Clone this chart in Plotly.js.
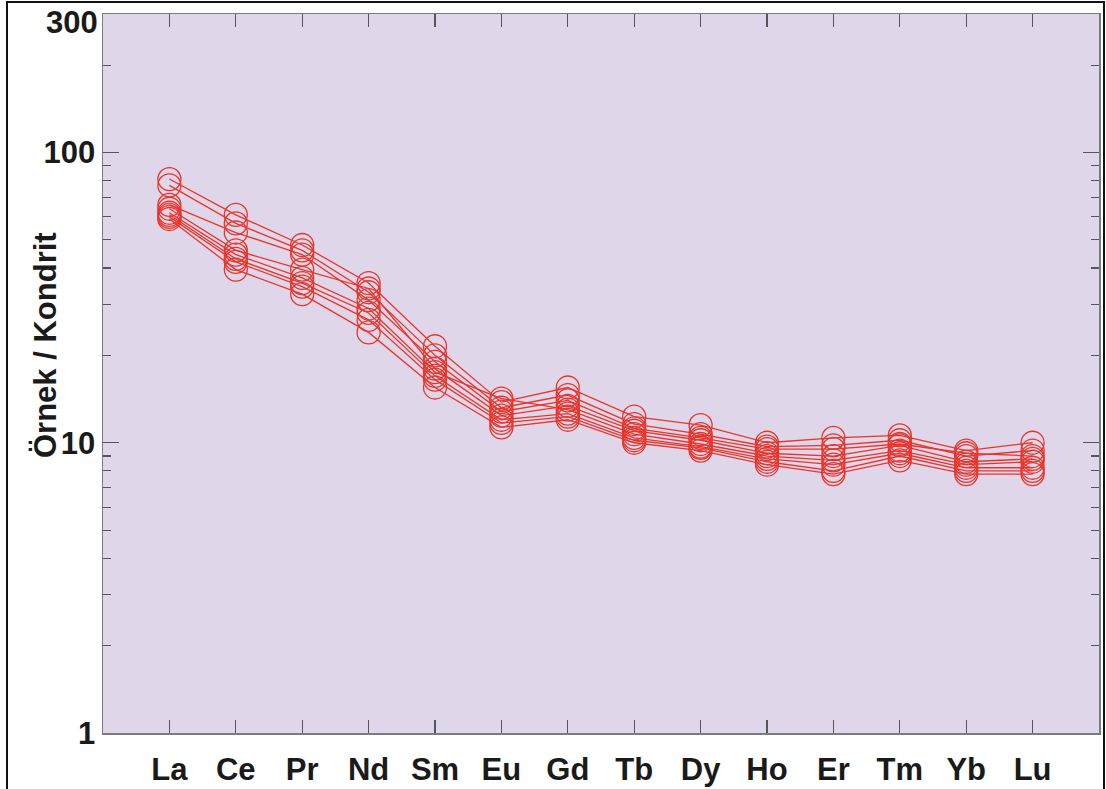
<!DOCTYPE html>
<html>
<head>
<meta charset="utf-8">
<script src="https://cdn.plot.ly/plotly-3.0.1.min.js"></script>
<style>html,body{margin:0;padding:0;background:#fff;}#chart{width:1106px;height:789px;}</style>
</head>
<body>
<div id="chart"></div>
<script>
const elements = ["La","Ce","Pr","Nd","Sm","Eu","Gd","Tb","Dy","Ho","Er","Tm","Yb","Lu"];
const sample1 = [81, 61, 48, 35.5, 21.5, 13.8, 15.5, 12.3, 11.5, 10.0, 10.4, 10.6, 9.4, 10.0];
const sample2 = [77, 57, 46, 33, 20, 13.2, 14.6, 11.6, 10.7, 9.7, 9.8, 10.2, 9.0, 9.4];
const sample3 = [66, 53, 44.5, 31, 19, 12.8, 14.0, 11.2, 10.4, 9.5, 9.5, 9.9, 9.2, 9.0];
const sample4 = [64, 46, 39.5, 34, 18, 12.4, 13.4, 11.0, 10.2, 9.2, 9.0, 9.8, 8.6, 8.8];
const sample5 = [62, 44.5, 37, 29, 17.5, 14.2, 13.0, 10.7, 9.9, 9.0, 8.7, 9.4, 8.4, 8.6];
const sample6 = [61, 43, 35.5, 28, 17, 12.0, 12.6, 10.4, 9.7, 8.8, 8.4, 9.2, 8.2, 8.2];
const sample7 = [60, 42, 34.5, 26.5, 16.5, 11.7, 12.3, 10.2, 9.6, 8.6, 8.0, 9.0, 8.0, 8.0];
const sample8 = [59, 39.5, 32.5, 24, 15.5, 11.3, 12.0, 10.0, 9.4, 8.4, 7.8, 8.7, 7.8, 7.8];
const samples = [sample1, sample2, sample3, sample4, sample5, sample6, sample7, sample8];
const yTickVals = [1, 10, 100];
const yTickText = ["1", "10", "100"];
const yTopLabel = "300";
const yMinorVals = [2,3,4,5,6,7,8,9,20,30,40,50,60,70,80,90,200];
const yTitle = "Örnek / Kondrit";

const red = "#e8352b";
const traces = samples.map(s => ({
  x: elements, y: s, type: "scatter", mode: "lines+markers",
  line: {color: red, width: 1.3},
  marker: {symbol: "circle-open", size: 23, color: red, line: {color: red, width: 1.3}},
  showlegend: false, hoverinfo: "skip"
}));

const axisGrey = "#7a7a80";
const tickGrey = "#55555a";
const font = {family: "Arial, 'Liberation Sans', sans-serif", color: "#1a1a1a"};

const layout = {
  width: 1106, height: 789,
  margin: {l: 103, r: 7, t: 14, b: 56},
  paper_bgcolor: "#ffffff",
  plot_bgcolor: "#e0d6e9",
  font: font,
  showlegend: false,
  xaxis: {
    type: "category", range: [-1, 14],
    tickmode: "array", tickvals: elements, ticktext: elements.map(e => "<b>" + e + "</b>"),
    ticks: "inside", ticklen: 13, tickwidth: 1.3, tickcolor: tickGrey,
    showline: true, linecolor: axisGrey, linewidth: 1.5, mirror: "ticks",
    showgrid: false, zeroline: false,
    tickfont: {size: 31, family: font.family, color: "#1a1a1a"},
    ticklabelstandoff: 8
  },
  yaxis: {
    type: "log", range: [0, Math.log10(300)],
    tickmode: "array", tickvals: yTickVals, ticktext: yTickText.map(t => "<b>" + t + "</b>"),
    ticks: "inside", ticklen: 16, tickwidth: 1.3, tickcolor: tickGrey,
    minor: {tickmode: "array", tickvals: yMinorVals, ticks: "inside", ticklen: 8, tickwidth: 1.2, tickcolor: tickGrey, showgrid: false},
    showline: true, linecolor: axisGrey, linewidth: 1.5, mirror: "ticks",
    showgrid: false, zeroline: false,
    tickfont: {size: 31, family: font.family, color: "#1a1a1a"},
    ticklabelstandoff: 0
  },
  annotations: [{
    text: "<b>" + yTitle + "</b>", xref: "paper", yref: "paper",
    x: (45 - 103) / 996, y: (733 - 345) / 719, textangle: -90,
    showarrow: false, font: {size: 31, family: font.family, color: "#1a1a1a"},
    xanchor: "center", yanchor: "middle"
  }, {
    text: "<b>" + yTopLabel + "</b>", xref: "paper", yref: "paper",
    x: 0, y: 1, xanchor: "right", yanchor: "middle", xshift: -3, yshift: -8,
    showarrow: false, font: {size: 31, family: font.family, color: "#1a1a1a"}
  }],
  shapes: [{
    type: "rect", xref: "paper", yref: "paper",
    x0: (7 - 103) / 996, x1: (1104 - 103) / 996,
    y0: (733 - 820) / 719, y1: (733 - 2) / 719,
    line: {color: "#111", width: 2}, fillcolor: "rgba(0,0,0,0)", layer: "above"
  }]
};

Plotly.newPlot("chart", traces, layout, {displayModeBar: false, staticPlot: true});
</script>
</body>
</html>
